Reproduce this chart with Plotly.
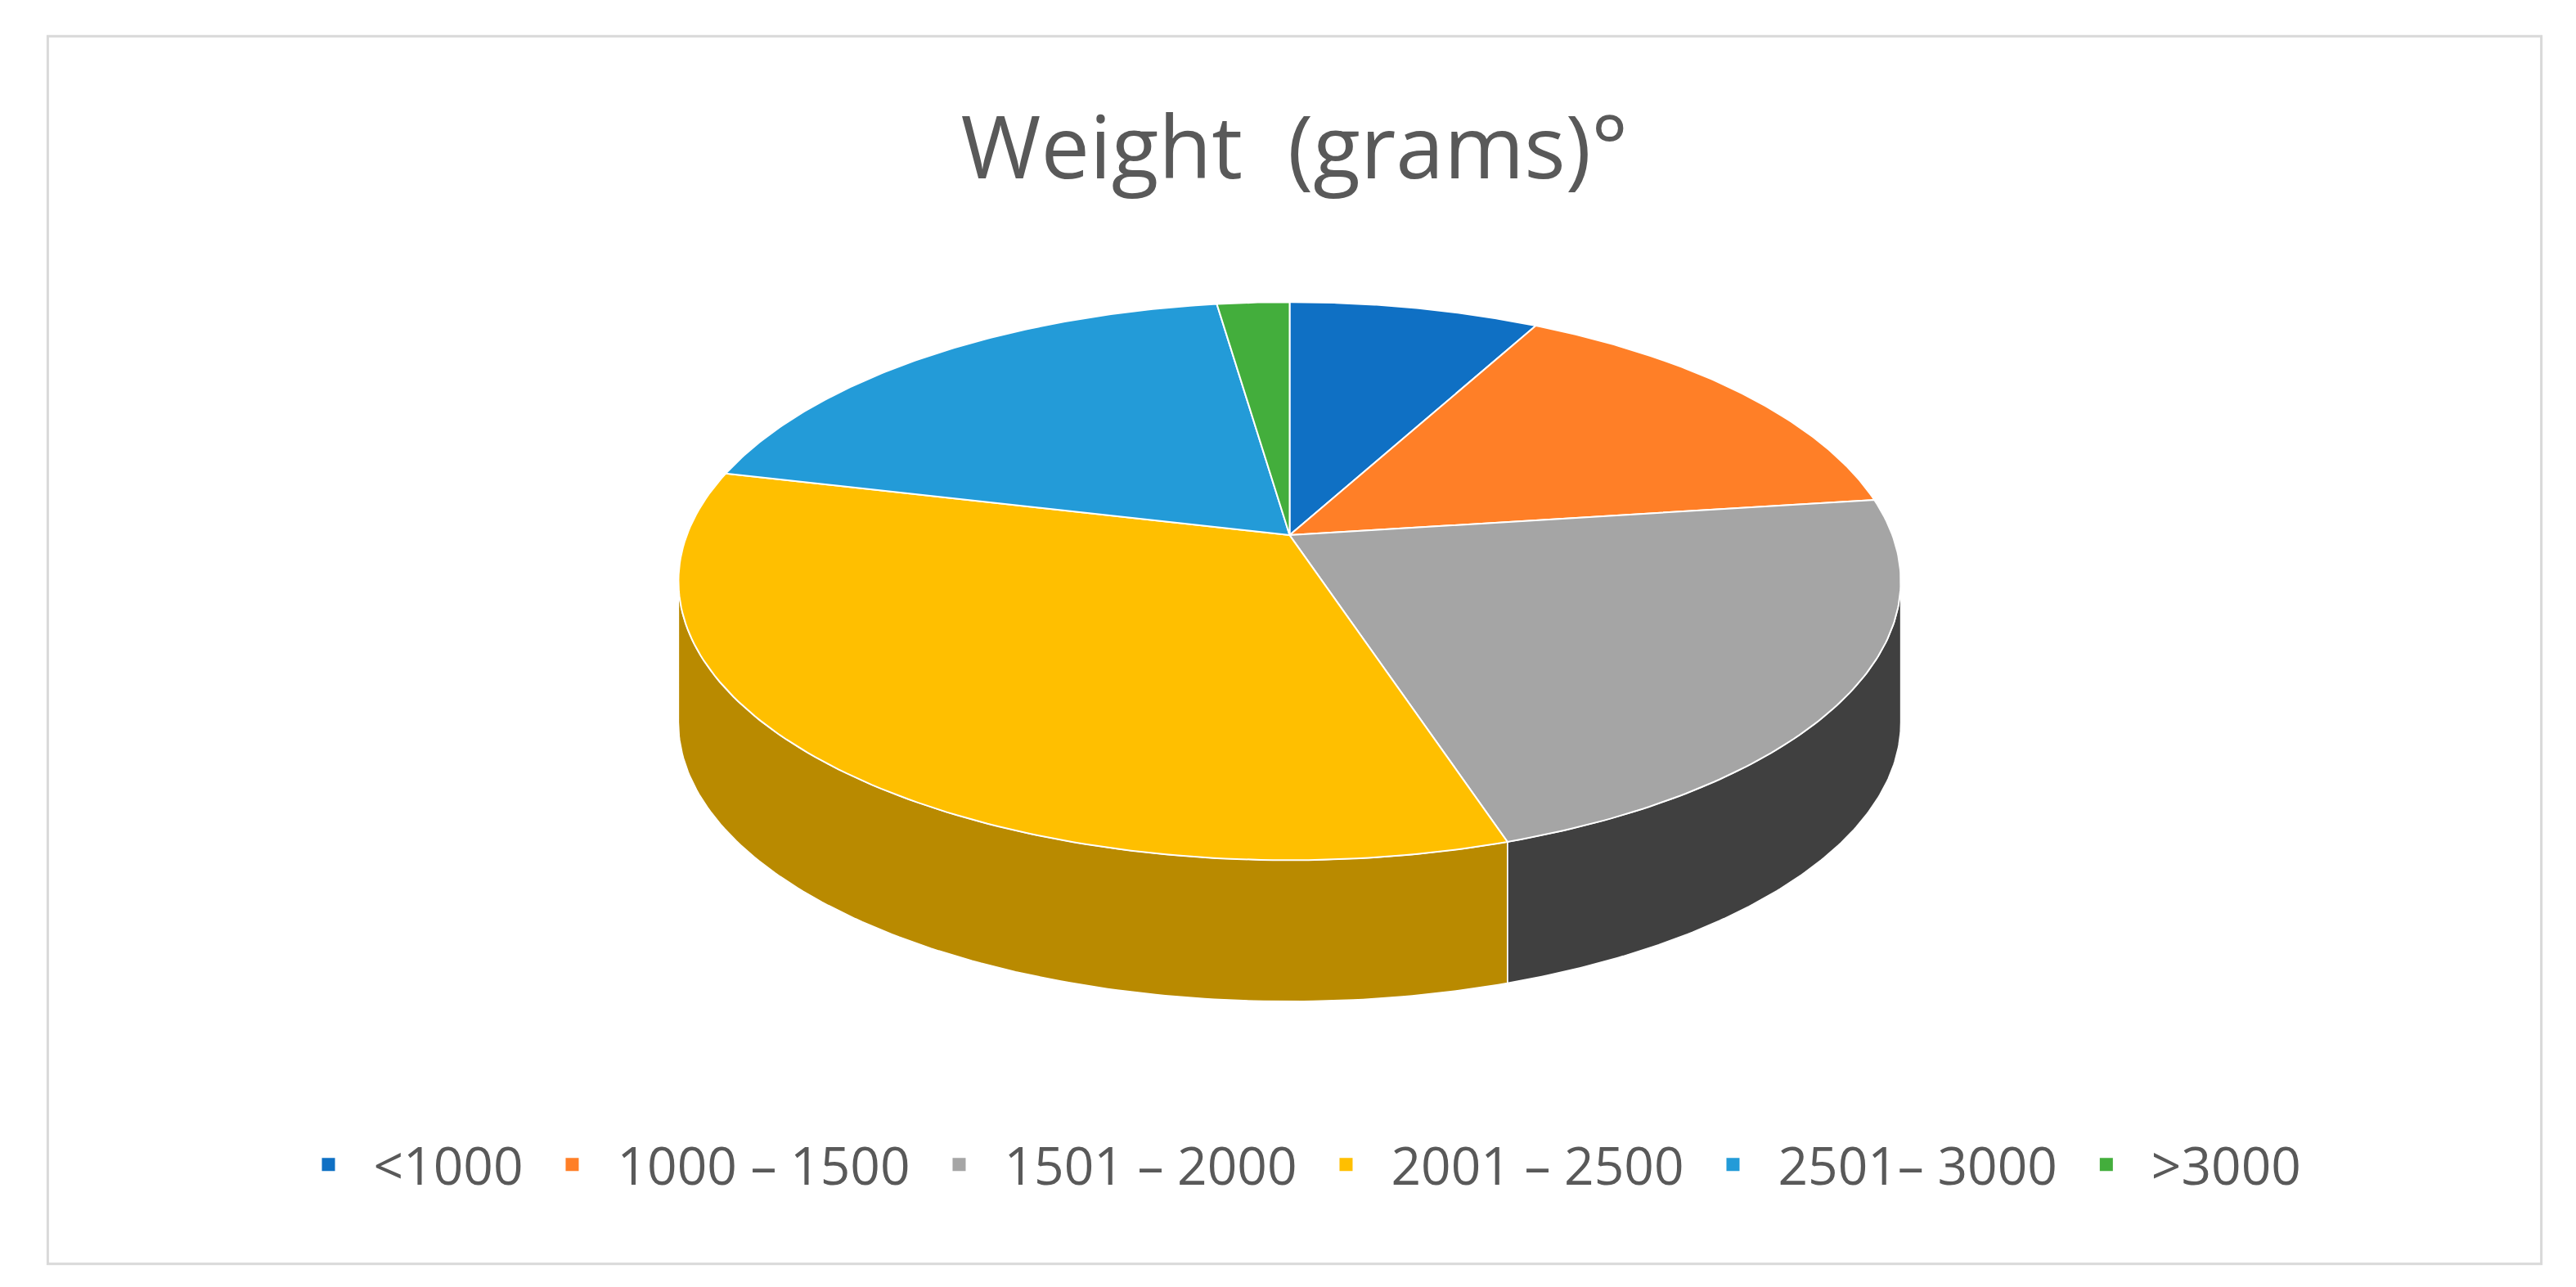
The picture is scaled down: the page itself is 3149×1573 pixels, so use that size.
import numpy as np
import plotly.graph_objects as go

labels = ["<1000", "1000 – 1500", "1501 – 2000", "2001 – 2500", "2501– 3000", ">3000"]
shares = [6.6, 13.7, 23.9, 37.1, 16.8, 1.9]
top_colors = ["#0f70c4", "#ff7f27", "#a5a5a5", "#ffbf00", "#239bd8", "#43ae3c"]
side_colors = ["#0a4f8a", "#b35a1c", "#404040", "#b98a00", "#186c98", "#2f7a2a"]

# geometry of the tilted disc, in page units (1568 x 784 canvas)
cx, cy, rx, ry, depth = 781, 350, 372, 170, 86
vx, vy = 781, 322  # apex of the slices sits a bit above the ellipse centre (perspective)

def arc(t0, t1, n=120):
    t = np.radians(np.linspace(t0, t1, n))
    return cx + rx * np.sin(t), cy - ry * np.cos(t)

fig = go.Figure()
bounds = np.concatenate([[0], np.cumsum(shares) / sum(shares) * 360])

# side walls (only the front half, 90..270 deg clockwise from top)
for i in range(len(shares)):
    a, b = max(bounds[i], 90), min(bounds[i + 1], 270)
    if a >= b:
        continue
    x, y = arc(a, b)
    xs = np.concatenate([x, x[::-1], x[:1]])
    ys = np.concatenate([y, y[::-1] + depth, y[:1]])
    fig.add_trace(go.Scatter(x=xs, y=ys, fill="toself", fillcolor=side_colors[i],
                             line=dict(color="white", width=1.5), mode="lines",
                             showlegend=False, hoverinfo="skip"))

# top face slices
for i in range(len(shares)):
    x, y = arc(bounds[i], bounds[i + 1])
    xs = np.concatenate([[vx], x, [vx]])
    ys = np.concatenate([[vy], y, [vy]])
    fig.add_trace(go.Scatter(x=xs, y=ys, fill="toself", fillcolor=top_colors[i],
                             line=dict(color="white", width=2), mode="lines",
                             showlegend=False, hoverinfo="text", text=labels[i]))

# legend entries
for lab, col in zip(labels, top_colors):
    fig.add_trace(go.Scatter(x=[None], y=[None], mode="markers", name=lab,
                             marker=dict(symbol="square", size=22, color=col)))

fig.update_layout(
    width=3149, height=1573,
    paper_bgcolor="white", plot_bgcolor="white",
    margin=dict(l=0, r=0, t=0, b=0),
    font=dict(family="Open Sans", color="#595959"),
    title=dict(text="Weight  (grams)°", x=0.5, y=0.89, xanchor="center", yanchor="middle",
               font=dict(size=106, color="#595959")),
    xaxis=dict(range=[0, 1568], visible=False, fixedrange=True),
    yaxis=dict(range=[784, 0], visible=False, fixedrange=True),
    legend=dict(orientation="h", x=0.5, xanchor="center", y=0.1, yanchor="middle",
                font=dict(size=64, color="#595959"), itemwidth=100, tracegroupgap=0),
    shapes=[dict(type="rect", xref="paper", yref="paper", x0=0.016, x1=0.984, y0=0.023, y1=0.977,
                 line=dict(color="#d9d9d9", width=3))],
)

fig.write_html("out.html")
